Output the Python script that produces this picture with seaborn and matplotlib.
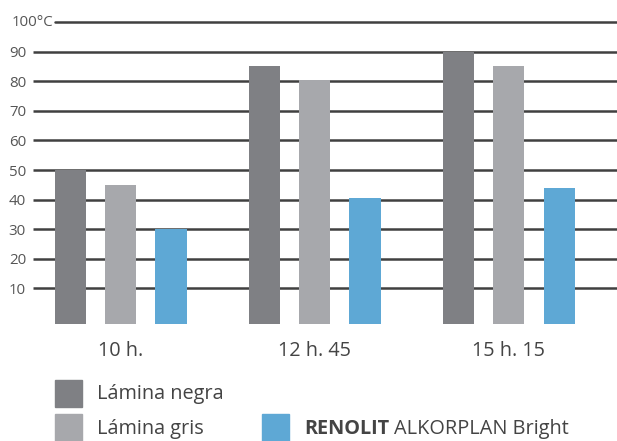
import pandas as pd
import matplotlib.pyplot as plt
import seaborn as sns
from matplotlib.patches import Rectangle

# --- Data ---
times = ["10 h.", "12 h. 45", "15 h. 15"]
series = ["Lámina negra", "Lámina gris", "RENOLIT ALKORPLAN Bright"]
negra = [50, 85, 90]
gris = [45, 80.5, 85]
bright = [30, 40.5, 44]
colors = ["#7f8084", "#a7a8ac", "#5ea8d5"]
y_ticks = [10, 20, 30, 40, 50, 60, 70, 80, 90]

df = pd.DataFrame({
    "time": times * 3,
    "series": [s for s in series for _ in times],
    "temp": negra + gris + bright,
})

sns.set_theme(style="white")
plt.rcParams["font.family"] = ["Open Sans", "DejaVu Sans"]

W, H = 617, 441
fig = plt.figure(figsize=(W / 100, H / 100), dpi=100)
ax = fig.add_axes([33 / W, 1 - 324 / H, 1 - 33 / W, 302 / H])

sns.barplot(data=df, x="time", y="temp", hue="series", order=times,
            hue_order=series, palette=colors, width=0.775, gap=0.38,
            saturation=1, legend=False, linewidth=0, ax=ax, zorder=2)

y0 = -2
ax.set_ylim(y0, 100)
ax.set_xlim(-0.453, 2.557)

# bars start slightly below the zero line, as in the original
for p in ax.patches:
    h = p.get_height()
    p.set_y(y0)
    p.set_height(h - y0)
    p.set_edgecolor("none")

# gridlines
grid_col = "#404040"
ax.hlines(y_ticks, -0.453, 2.557, color=grid_col, lw=1.8, zorder=0)
ax.axhline(100, xmin=(55 - 33) / (W - 33), xmax=1, color=grid_col, lw=1.8,
           zorder=0, clip_on=False)

ax.set_yticks(y_ticks)
ax.set_yticklabels([str(v) for v in y_ticks])
ax.tick_params(axis="y", length=0, pad=5, labelsize=10.8, labelcolor="#555555")
ax.text(53 / W, 1 - 22.5 / H, "100°C", transform=fig.transFigure, ha="right",
        va="center", fontsize=10.8, color="#555555")

ax.set_xticks(range(len(times)))
ax.set_xticklabels(times)
ax.tick_params(axis="x", length=0, pad=12, labelsize=14.3, labelcolor="#444444")
ax.set_xlabel("")
ax.set_ylabel("")
for s in ax.spines.values():
    s.set_visible(False)

# legend drawn by hand (bold brand name)
def legend_item(x, y, color, label_parts, baseline):
    fig.patches.append(Rectangle((x / W, 1 - (y + 27) / H), 27 / W, 27 / H,
                                 transform=fig.transFigure, color=color,
                                 figure=fig))
    tx = (x + 42) / W
    for txt, weight in label_parts:
        t = fig.text(tx, 1 - baseline / H, txt, ha="left", va="baseline",
                     fontsize=14.3, color="#444444", weight=weight)
        fig.canvas.draw()
        bb = t.get_window_extent()
        tx = bb.x1 / W + 5 / W

legend_item(55, 380, colors[0], [(series[0], "normal")], 399)
legend_item(55, 414, colors[1], [(series[1], "normal")], 434)
legend_item(262, 414, colors[2], [("RENOLIT", "bold"), ("ALKORPLAN Bright", "normal")], 434)

fig.savefig("out.png", dpi=100)
